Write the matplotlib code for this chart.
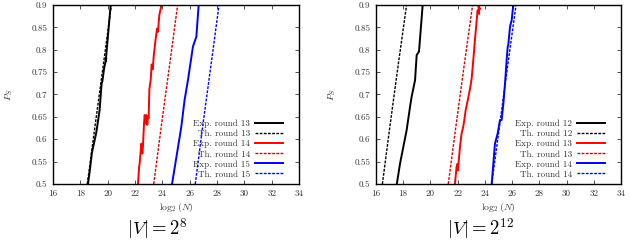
import matplotlib
matplotlib.use("Agg")
import matplotlib.pyplot as plt
from matplotlib.ticker import FixedLocator, FuncFormatter

plt.rcParams['font.family'] = ['cmr10', 'DejaVu Serif']
plt.rcParams['mathtext.fontset'] = 'cm'
plt.rcParams['axes.formatter.use_mathtext'] = True

# ---- Panel |V| = 2^8 ----
a_exp13_x = [18.56, 18.70, 18.85, 19.05, 19.17, 19.41, 19.56, 19.61, 19.75, 19.90, 19.86, 20.05, 20.22]
a_exp13_y = [0.500, 0.531, 0.570, 0.598, 0.615, 0.665, 0.725, 0.729, 0.760, 0.781, 0.775, 0.840, 0.900]
a_th13_x = [18.51, 19.10, 19.70, 20.27]
a_th13_y = [0.500, 0.635, 0.770, 0.900]
a_exp14_x = [22.22, 22.30, 22.34, 22.46, 22.54, 22.58, 22.66, 22.71, 22.78, 22.83, 22.90, 22.95, 23.00,
             23.05, 23.15, 23.22, 23.30, 23.37, 23.49, 23.61, 23.68, 23.78, 23.86, 23.93]
a_exp14_y = [0.500, 0.538, 0.545, 0.590, 0.568, 0.583, 0.635, 0.654, 0.635, 0.654, 0.632, 0.650, 0.647,
             0.711, 0.733, 0.767, 0.756, 0.786, 0.819, 0.847, 0.840, 0.877, 0.889, 0.900]
a_th14_x = [23.37, 23.95, 24.55, 25.12]
a_th14_y = [0.500, 0.635, 0.770, 0.900]
a_exp15_x = [24.71, 25.03, 25.39, 25.63, 25.88, 26.24, 26.49, 26.56, 26.66]
a_exp15_y = [0.500, 0.560, 0.628, 0.688, 0.733, 0.807, 0.829, 0.859, 0.900]
a_th15_x = [26.41, 26.98, 27.58, 28.15]
a_th15_y = [0.500, 0.635, 0.770, 0.900]

# ---- Panel |V| = 2^12 ----
b_exp12_x = [17.53, 17.77, 18.01, 18.25, 18.50, 18.62, 18.87, 18.99, 19.16, 19.43]
b_exp12_y = [0.500, 0.546, 0.583, 0.620, 0.672, 0.695, 0.732, 0.788, 0.796, 0.900]
b_th12_x = [16.47, 17.05, 17.65, 18.25]
b_th12_y = [0.500, 0.635, 0.770, 0.900]
b_exp13_x = [21.80, 21.92, 21.98, 22.02, 22.17, 22.29, 22.41, 22.49, 22.59, 22.74, 22.91, 23.03,
             23.15, 23.27, 23.40, 23.46, 23.58, 23.52, 23.62, 23.56]
b_exp13_y = [0.500, 0.538, 0.545, 0.530, 0.583, 0.613, 0.628, 0.643, 0.665, 0.687, 0.713, 0.736,
             0.777, 0.822, 0.866, 0.888, 0.880, 0.900, 0.890, 0.900]
b_th13_x = [21.31, 21.90, 22.50, 23.10]
b_th13_y = [0.500, 0.635, 0.770, 0.900]
b_exp14_x = [24.50, 24.74, 24.94, 25.11, 25.23, 25.36, 25.48, 25.60, 25.68, 25.72, 25.85, 25.97, 26.02, 26.09]
b_exp14_y = [0.500, 0.590, 0.613, 0.643, 0.643, 0.680, 0.725, 0.777, 0.807, 0.811, 0.852, 0.866, 0.881, 0.900]
b_th14_x = [24.50, 25.10, 25.70, 26.29]
b_th14_y = [0.500, 0.635, 0.770, 0.900]

x_ticks = [16, 18, 20, 22, 24, 26, 28, 30, 32, 34]
y_ticks = [0.5, 0.55, 0.6, 0.65, 0.7, 0.75, 0.8, 0.85, 0.9]

panels = [
    dict(pos=[0.0841, 0.2397, 0.3905, 0.7397], title=r'$|V| = 2^{8}$', tx=0.249,
         series=[("Exp. round 13", a_exp13_x, a_exp13_y, 'black', '-'),
                 ("Th. round 13", a_th13_x, a_th13_y, 'black', '--'),
                 ("Exp. round 14", a_exp14_x, a_exp14_y, 'red', '-'),
                 ("Th. round 14", a_th14_x, a_th14_y, '#dd0000', '--'),
                 ("Exp. round 15", a_exp15_x, a_exp15_y, 'blue', '-'),
                 ("Th. round 15", a_th15_x, a_th15_y, 'blue', '--')]),
    dict(pos=[0.5968, 0.2397, 0.3889, 0.7397], title=r'$|V| = 2^{12}$', tx=0.763,
         series=[("Exp. round 12", b_exp12_x, b_exp12_y, 'black', '-'),
                 ("Th. round 12", b_th12_x, b_th12_y, 'black', '--'),
                 ("Exp. round 13", b_exp13_x, b_exp13_y, 'red', '-'),
                 ("Th. round 13", b_th13_x, b_th13_y, '#dd0000', '--'),
                 ("Exp. round 14", b_exp14_x, b_exp14_y, 'blue', '-'),
                 ("Th. round 14", b_th14_x, b_th14_y, 'blue', '--')]),
]

fig = plt.figure(figsize=(6.3, 2.42), dpi=100)
for p in panels:
    ax = fig.add_axes(p['pos'])
    for label, xs, ys, c, ls in p['series']:
        if ls == '-':
            ax.plot(xs, ys, color=c, linestyle='-', linewidth=1.4, label=label)
        else:
            ax.plot(xs, ys, color=c, linestyle=(0, (2.0, 1.0)), linewidth=1.0, label=label)
    ax.set_xlim(16, 34)
    ax.set_ylim(0.5, 0.9)
    ax.xaxis.set_major_locator(FixedLocator(x_ticks))
    ax.yaxis.set_major_locator(FixedLocator(y_ticks))
    ax.yaxis.set_major_formatter(FuncFormatter(lambda v, pos: ('%g' % round(v, 2))))
    ax.xaxis.set_major_formatter(FuncFormatter(lambda v, pos: '%d' % v))
    ax.tick_params(direction='in', top=True, right=True, length=3, width=0.6,
                   labelsize=6.5, colors='#333333', pad=4)
    for s in ax.spines.values():
        s.set_linewidth(1.0)
    ax.set_xlabel(r'$\log_2(N)$', fontsize=7, color='#333333', labelpad=2.5)
    ax.set_ylabel(r'$P_S$', fontsize=7, color='#333333', labelpad=12)
    leg = ax.legend(loc='lower right', bbox_to_anchor=(0.955, 0.0), frameon=False,
                    markerfirst=False, fontsize=6.5, handlelength=3.0, labelspacing=0.18,
                    handletextpad=0.6, borderaxespad=0.2)
    for t in leg.get_texts():
        t.set_color('#333333')
    fig.text(p['tx'], 0.055, p['title'], ha='center', va='center', fontsize=13.5)

fig.savefig('out.png', dpi=100)
